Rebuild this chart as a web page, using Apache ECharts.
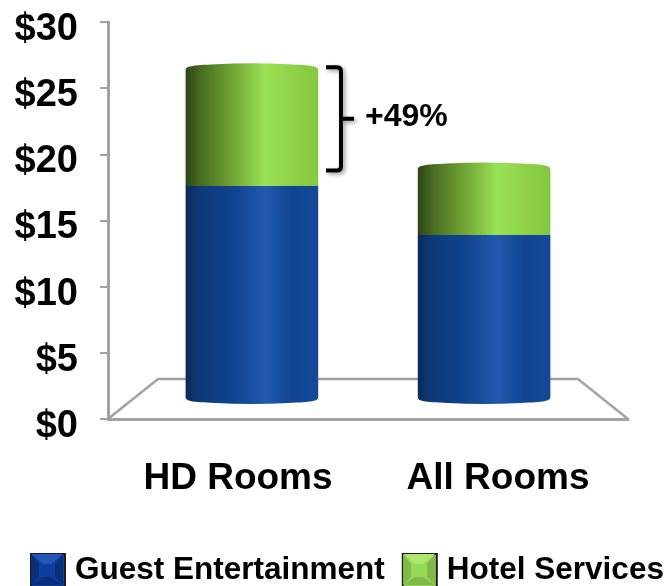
<!DOCTYPE html>
<html>
<head>
<meta charset="utf-8">
<style>html,body{margin:0;padding:0;background:#fff}#chart{width:669px;height:586px}</style>
<script src="https://cdn.jsdelivr.net/npm/echarts@6/dist/echarts.min.js"></script>
</head>
<body>
<div id="chart"></div>
<script>
// Revenue per room, stacked by service line
const categories = ['HD Rooms', 'All Rooms'];
const guestEntertainment = [16.1, 12.4];
const hotelServices = [8.9, 5.1];
const uplift = '+49%';
const yTicks = { min: 0, max: 30, interval: 5 };

const FONT = '"Liberation Sans", Arial, sans-serif';
const AXIS_GRAY = '#a3a3a3';
// Floor of the pseudo-3D plot: how far the back edge recedes from the front edge
const DEPTH_X = 50, DEPTH_Y = 40;
// Cylinders stand partway back on the floor, so x positions shrink toward the plot centre
const MID_SCALE = 0.893;

const blueStops = [[0, '#0a2a58'], [0.12, '#0e3a7c'], [0.35, '#0f428e'], [0.6, '#2159ad'], [0.8, '#114594'], [1, '#134a98']];
const greenStops = [[0, '#2f4518'], [0.12, '#4a6d22'], [0.35, '#6fa332'], [0.6, '#9ce256'], [0.8, '#8fd24a'], [1, '#84c740']];
const gradient = stops => new echarts.graphic.LinearGradient(0, 0, 1, 0,
  stops.map(([offset, color]) => ({ offset, color })));

function cylinderBox(api, params) {
  const cs = params.coordSys;
  const idx = api.value(0);
  const cx = cs.x + cs.width / 2;
  const frontX = api.coord([idx, 0])[0];
  const x = cx + (frontX - cx) * MID_SCALE;
  const half = api.size([1, 0])[0] * 0.255;
  return { l: x - half, r: x + half,
    y0: api.coord([idx, api.value(1)])[1] - DEPTH_Y / 2,
    y1: api.coord([idx, api.value(2)])[1] - DEPTH_Y / 2 };
}

function lowerSegment(params, api) {
  const { l, r, y0, y1 } = cylinderBox(api, params);
  const m = (l + r) / 2, b = y0 - 2;
  const pathData = `M${l} ${y1}L${r} ${y1}L${r} ${b}C${r} ${b + 4} ${r - 6} ${b + 5} ${r - 30} ${b + 6}Q${m} ${b + 8} ${l + 30} ${b + 6}C${l + 6} ${b + 5} ${l} ${b + 4} ${l} ${b}Z`;
  return { type: 'path', shape: { pathData }, style: { fill: gradient(blueStops) } };
}

function upperSegment(params, api) {
  const { l, r, y0, y1 } = cylinderBox(api, params);
  const m = (l + r) / 2, t = y1 + 2;
  const pathData = `M${l} ${y0}L${r} ${y0}L${r} ${t}C${r} ${t - 4} ${r - 6} ${t - 5} ${r - 30} ${t - 6}Q${m} ${t - 8} ${l + 30} ${t - 6}C${l + 6} ${t - 5} ${l} ${t - 4} ${l} ${t}Z`;
  return { type: 'path', shape: { pathData }, style: { fill: gradient(greenStops) } };
}

function floorOutline(params, api) {
  const cs = params.coordSys;
  const y = api.coord([0, 0])[1];
  const l = cs.x, r = cs.x + cs.width;
  return { type: 'polyline',
    shape: { points: [[l, y], [l + DEPTH_X, y - DEPTH_Y], [r - DEPTH_X, y - DEPTH_Y], [r, y]] },
    style: { fill: null, stroke: AXIS_GRAY, lineWidth: 2.5 }, silent: true };
}

// Bracket spanning the gap between the two stack totals, with its label
function upliftBracket(params, api) {
  const cs = params.coordSys;
  const top = api.coord([0, api.value(1)])[1] - DEPTH_Y / 2 - 1;
  const bottom = api.coord([0, api.value(2)])[1] - DEPTH_Y / 2 + 3;
  const mid = (top + bottom) / 2;
  const x = cs.x + 218, w = 15, tick = 13;
  const line = { stroke: '#000', lineWidth: 4, fill: null, shadowBlur: 4, shadowColor: 'rgba(0,0,0,0.4)', shadowOffsetX: 2, shadowOffsetY: 2 };
  return { type: 'group', children: [
    { type: 'path', shape: { pathData:
        `M${x} ${top}L${x + w - 4} ${top}Q${x + w} ${top} ${x + w} ${top + 4}L${x + w} ${bottom - 4}Q${x + w} ${bottom} ${x + w - 4} ${bottom}L${x} ${bottom}M${x + w} ${mid}L${x + w + tick} ${mid}` },
      style: line },
    { type: 'text', style: { x: x + w + 24, y: mid - 2, text: uplift, font: `bold 32px ${FONT}`, fill: '#000', verticalAlign: 'middle' } }
  ] };
}

// Bevel facets laid over a legend key
function keyBevel(x, y, w, h, light, dark) {
  const i = 8;
  const poly = (points, fill) => ({ type: 'polygon', shape: { points }, style: { fill }, z: 20, silent: true });
  return [
    poly([[x, y], [x + w, y], [x + w / 2 + 4, y + i + 2], [x + w / 2 - 4, y + i + 2]], light),
    poly([[x, y + h], [x + w, y + h], [x + w / 2 + 4, y + h - i], [x + w / 2 - 4, y + h - i]], dark),
    poly([[x, y], [x + i, y + i + 2], [x + i, y + h - i], [x, y + h]], dark),
    poly([[x + w, y], [x + w - i, y + i + 2], [x + w - i, y + h - i], [x + w, y + h]], dark)
  ];
}

const idx = categories.map((_, i) => i);
const guestRows = idx.map(i => [i, 0, guestEntertainment[i]]);
const hotelRows = idx.map(i => [i, guestEntertainment[i], guestEntertainment[i] + hotelServices[i]]);

const chart = echarts.init(document.getElementById('chart'), null, { renderer: 'canvas' });
chart.setOption({
  animation: false,
  backgroundColor: '#fff',
  grid: { left: 108, right: 41, top: 22, height: 397, containLabel: false },
  xAxis: {
    type: 'category', data: categories, boundaryGap: true,
    axisLine: { lineStyle: { color: AXIS_GRAY, width: 3 } },
    axisTick: { show: false },
    axisLabel: { margin: 41, color: '#000', fontFamily: FONT, fontWeight: 'bold', fontSize: 37 }
  },
  yAxis: {
    type: 'value', min: yTicks.min, max: yTicks.max, interval: yTicks.interval,
    splitLine: { show: false },
    axisLine: { show: true, lineStyle: { color: AXIS_GRAY, width: 3 } },
    axisTick: { show: true, length: 8, lineStyle: { color: AXIS_GRAY, width: 2 } },
    axisLabel: { margin: 30, color: '#000', fontFamily: FONT, fontWeight: 'bold', fontSize: 38,
      verticalAlign: 'top', lineHeight: 15, formatter: v => '$' + v }
  },
  legend: {
    left: 30, top: 553, padding: 0, itemWidth: 34, itemHeight: 33, itemGap: 17, icon: 'rect',
    textStyle: { color: '#000', fontFamily: FONT, fontWeight: 'bold', fontSize: 31.5, padding: [0, 0, 0, 5] },
    itemStyle: { borderColor: '#1c1c1c', borderWidth: 2 },
    data: ['Guest Entertainment', 'Hotel Services']
  },
  graphic: [
    ...keyBevel(31, 554, 32, 31, '#2456b8', '#0b3079'),
    ...keyBevel(403, 554, 32, 31, '#aee66e', '#82b84a')
  ],
  series: [
    { type: 'custom', name: 'floor', z: 1, renderItem: floorOutline, data: [[0]], silent: true },
    { type: 'custom', name: 'Guest Entertainment', z: 3, renderItem: lowerSegment, data: guestRows,
      itemStyle: { color: '#0d3f9e' }, encode: { x: 0, y: 2 } },
    { type: 'custom', name: 'Hotel Services', z: 3, renderItem: upperSegment, data: hotelRows,
      itemStyle: { color: '#95dc56' }, encode: { x: 0, y: 2 } },
    { type: 'custom', name: 'uplift', z: 4, renderItem: upliftBracket,
      data: [[0, hotelRows[0][2], hotelRows[1][2]]], silent: true }
  ]
});
</script>
</body>
</html>
